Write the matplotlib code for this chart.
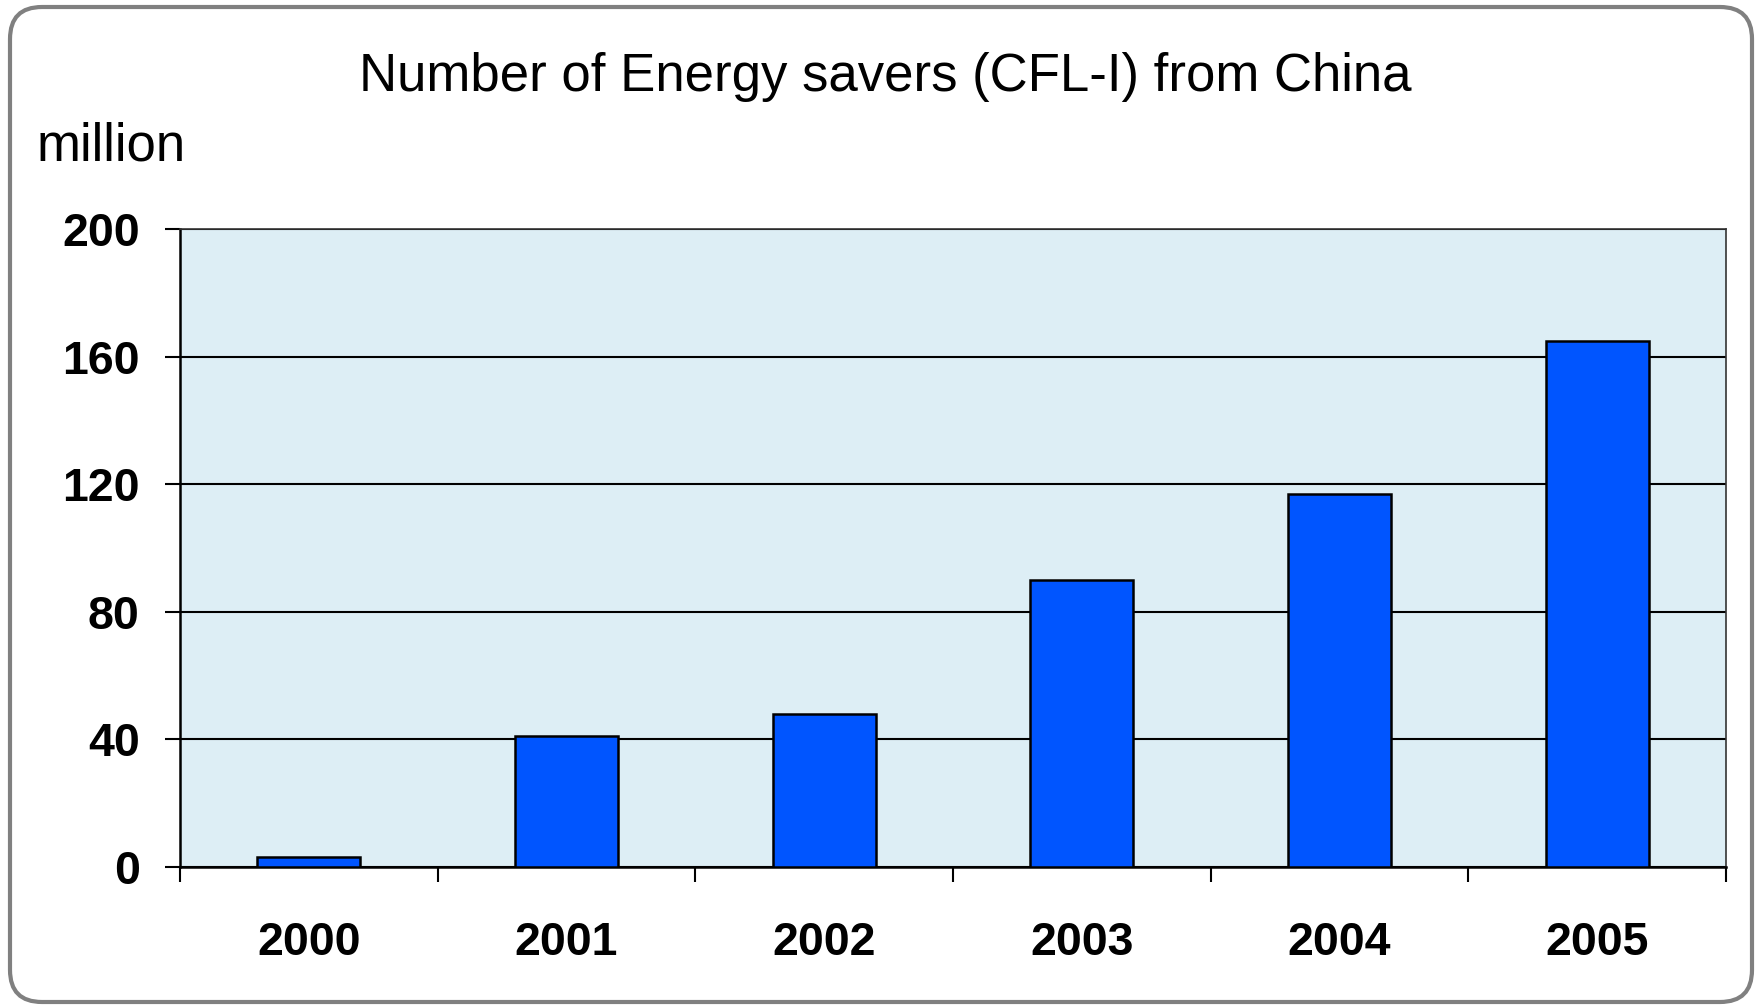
import matplotlib
matplotlib.use("Agg")
import matplotlib.pyplot as plt
from matplotlib.patches import FancyBboxPatch

plt.rcParams['font.family'] = ['Liberation Sans', 'DejaVu Sans']

years = ['2000', '2001', '2002', '2003', '2004', '2005']
savers = [3, 41, 48, 90, 117, 165]  # million units
y_ticks = [0, 40, 80, 120, 160, 200]

fig = plt.figure(figsize=(17.57, 10.07), dpi=100)

# rounded grey frame around the whole chart, in pixel coordinates
frame = FancyBboxPatch((10, 5), 1742, 995,
                       boxstyle="round,pad=0,rounding_size=32",
                       transform=None, facecolor='white',
                       edgecolor='#808080', linewidth=3, zorder=-1)
fig.patches.append(frame)

ax = fig.add_axes([0.1024, 0.139, 0.8800, 0.6336])
ax.set_zorder(1)
ax.set_facecolor('#ddeef5')

x = list(range(len(years)))
ax.bar(x, savers, width=0.4, color='#0055ff', edgecolor='black',
       linewidth=1.8, zorder=3)

ax.set_xlim(-0.5, len(years) - 0.5)
ax.set_ylim(0, 200)
ax.set_yticks(y_ticks)
ax.set_yticklabels([str(v) for v in y_ticks], fontsize=33.5, fontweight='bold')
ax.yaxis.grid(True, color='black', linewidth=1.5, zorder=1)
ax.set_axisbelow(True)

# tick marks between categories, labels under the category centres
ax.set_xticks([i - 0.5 for i in range(len(years) + 1)])
ax.set_xticklabels([])
ax.set_xticks(x, minor=True)
ax.set_xticklabels(years, minor=True, fontsize=33.5, fontweight='bold')
ax.tick_params(axis='x', which='major', direction='out', length=11, width=1.5)
ax.tick_params(axis='x', which='minor', length=0, pad=39)
ax.tick_params(axis='y', direction='out', length=11, width=1.5, pad=18)

for side in ['left', 'bottom']:
    ax.spines[side].set_linewidth(1.8)
    ax.spines[side].set_color('black')
for side in ['top', 'right']:
    ax.spines[side].set_linewidth(1.2)
    ax.spines[side].set_color('#333333')

fig.text(0.504, 0.924, 'Number of Energy savers (CFL-I) from China',
         ha='center', va='center', fontsize=38)
fig.text(0.021, 0.855, 'million', ha='left', va='center', fontsize=38)

fig.savefig('out.png', dpi=100)
